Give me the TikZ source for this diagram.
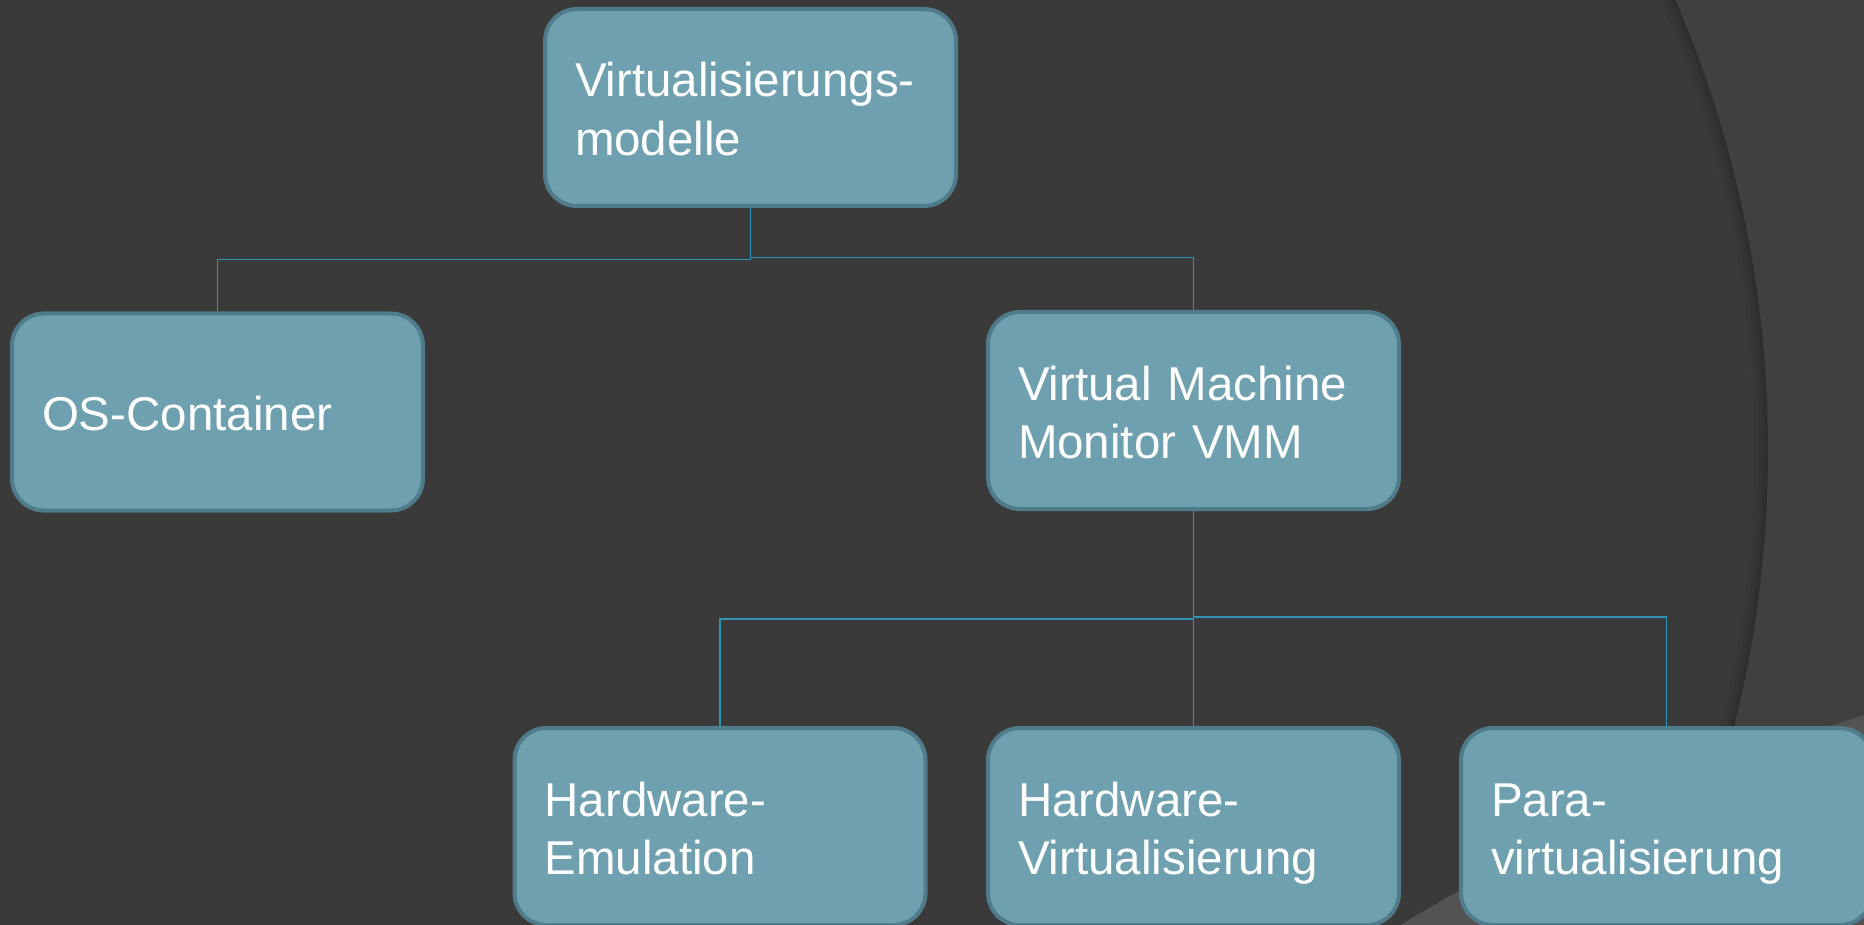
\documentclass[tikz,border=0pt]{standalone}
\usepackage{fontspec}
\setmainfont{Liberation Sans}
\definecolor{bgA}{HTML}{3A3A3A}
\definecolor{bgB}{HTML}{404040}
\definecolor{bgC}{HTML}{535353}
\definecolor{boxfill}{HTML}{6FA0AF}
\definecolor{boxline}{HTML}{4F7B8A}
\definecolor{conncol}{HTML}{2F93B5}
\newcommand{\lnstrut}{\rule[-10.5pt]{0pt}{58.5pt}}
\pgfdeclarelayer{back}
\pgfsetlayers{back,main}
\tikzset{
  vbox/.style={draw=boxline, line width=4pt, fill=boxfill, rounded corners=32pt,
    minimum width=411pt, minimum height=197pt, text width=351pt, align=left,
    inner xsep=30pt, inner ysep=0pt, text=white,
    font=\fontsize{47.5}{58.5}\selectfont},
  conn/.style={draw=conncol, line width=1.8pt}
}
\begin{document}
\begin{tikzpicture}[x=1pt,y=-1pt]
\useasboundingbox (0,0) rectangle (1864,925);
\begin{pgfonlayer}{back}
  \fill[bgA] (0,0) rectangle (1864,925);
  \begin{scope}
    \clip (1500,0) rectangle (1864,925);
    \fill[bgB, even odd rule] (1500,0) rectangle (1864,925) (633,450) circle[radius=1135];
  \end{scope}
  \begin{scope}
    \clip (633,450) circle[radius=1135];
    \foreach \w in {28,18,11,6} {
      \draw[black, opacity=0.045, line width=\w pt] (633,450) circle[radius=1135];
    }
  \end{scope}
  \fill[bgC] (2502,2745) circle[radius=2127];
\end{pgfonlayer}

\node[vbox] (root) at (750.5,107.5) {\lnstrut Virtualisierungs-\\\lnstrut modelle};
\node[vbox] (os) at (217.5,412) {\lnstrut OS-Container};
\node[vbox] (vmm) at (1193.5,410.5) {\lnstrut Virtual Machine\\\lnstrut Monitor VMM};
\node[vbox] (he) at (720,826.5) {\lnstrut Hardware-\\\lnstrut Emulation};
\node[vbox] (hv) at (1193.5,826.5) {\lnstrut Hardware-\\\lnstrut Virtualisierung};
\node[vbox] (pv) at (1666.5,826.5) {\lnstrut Para-\\\lnstrut virtualisierung};

\coordinate (lvlA) at (0,259.5);
\coordinate (lvlB) at (0,257.5);
\coordinate (lvlC) at (0,619);
\coordinate (lvlD) at (0,617);

\begin{pgfonlayer}{back}
  \draw[conn] (root.south) -- (root.south |- lvlA) -| (os.north);
  \draw[conn] (root.south |- lvlB) -| (vmm.north);
  \draw[conn] (vmm.south) -- (hv.north);
  \draw[conn] (vmm.south |- lvlC) -| (he.north);
  \draw[conn] (vmm.south |- lvlD) -| (pv.north);
\end{pgfonlayer}
\end{tikzpicture}
\end{document}
